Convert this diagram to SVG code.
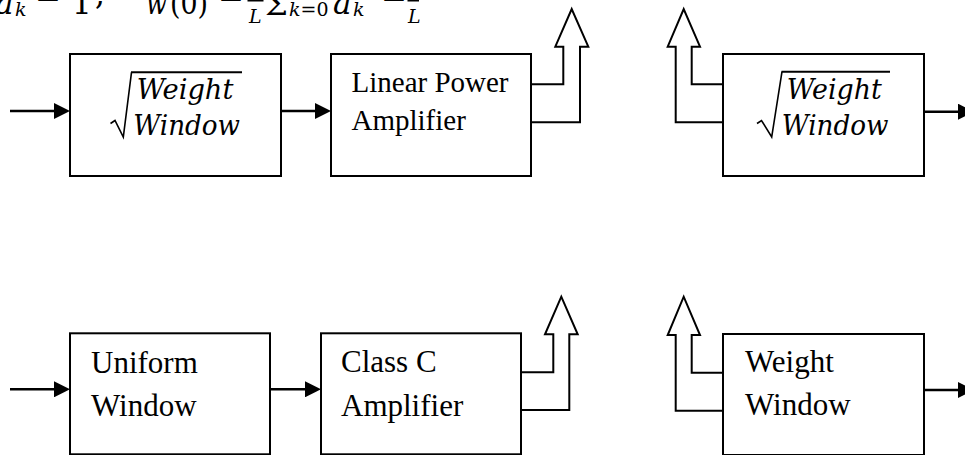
<svg xmlns="http://www.w3.org/2000/svg" width="965" height="455" viewBox="0 0 965 455">
<style>
.box{fill:#fff;stroke:#000;stroke-width:2}
.line{fill:none;stroke:#000;stroke-width:2.5}
.hollow{fill:#fff;stroke:#000;stroke-width:2;stroke-linejoin:miter}
.rad{fill:none;stroke:#000;stroke-width:1.6;stroke-linejoin:miter}
.lbl{font-family:"Liberation Serif","Times New Roman",serif;fill:#000}
.t29{font-size:29px}
.t31{font-size:31px}
.mi{font-family:"DejaVu Serif",serif;font-style:italic;font-size:27px;fill:#000}
.mr{font-family:"DejaVu Serif",serif;font-size:27px;fill:#000}
.fm{font-size:31px}
.ms{font-size:19px}
</style>
<defs>
<marker id="ah" markerUnits="userSpaceOnUse" markerWidth="16" markerHeight="16" refX="8" refY="8" orient="auto">
<path d="M0,0 L16,8 L0,16 z" fill="#000"/>
</marker>
</defs>
<rect width="965" height="455" fill="#fff"/>

<g id="formula">
<text class="mi fm" x="-5" y="14">a</text>
<text class="mi ms" x="15" y="15.5">k</text>
<text class="mr fm" x="35" y="7">=</text>
<text class="mr fm" x="72" y="14">1</text>
<text class="mr fm" x="95" y="5">,</text>
<text class="mi fm" x="146" y="14" textLength="21" lengthAdjust="spacingAndGlyphs">w</text>
<text class="mr fm" x="170" y="14" textLength="38" lengthAdjust="spacingAndGlyphs">(0)</text>
<text class="mr fm" x="218" y="7">=</text>
<rect x="247.5" y="-1" width="16" height="2.5" fill="#000"/>
<text class="mi ms" x="249" y="23">L</text>
<text class="mr" x="265" y="15" font-size="33" textLength="23" lengthAdjust="spacingAndGlyphs">Σ</text>
<text class="mi ms" x="289" y="16">k<tspan class="mr ms" font-style="normal">=0</tspan></text>
<text class="mi fm" x="333" y="14">a</text>
<text class="mi ms" x="353" y="15.5">k</text>
<text class="mr fm" x="381" y="7">=</text>
<rect x="407.5" y="-1" width="11.5" height="2.5" fill="#000"/>
<text class="mi ms" x="408" y="23">L</text>
</g>

<g id="connectors">
<path class="line" d="M10,111 H62" marker-end="url(#ah)"/>
<path class="line" d="M281,111 H323" marker-end="url(#ah)"/>
<path class="line" d="M924,111.7 H966" marker-end="url(#ah)"/>
<path class="line" d="M10,389.3 H62" marker-end="url(#ah)"/>
<path class="line" d="M270,389.3 H313" marker-end="url(#ah)"/>
<path class="line" d="M924,390 H966" marker-end="url(#ah)"/>
<path class="hollow" d="M531,84.3 H563.3 V46.7 H555.3 L571.7,9 L588.3,46.7 H580 V122.3 H531"/>
<path class="hollow" d="M521,372.3 H553.3 V334.3 H545 L561.3,296.7 L577.7,334.3 H569.3 V410 H521"/>
<path class="hollow" d="M723,84.3 H691.7 V46.7 H700 L683.7,9 L667.7,46.7 H675.7 V122.3 H723"/>
<path class="hollow" d="M723,372.7 H691.7 V335 H700 L683.7,296.7 L667.7,335 H675.7 V410.7 H723"/>
</g>

<g id="node-sqrt-weight-tx">
<rect class="box" x="70" y="54" width="211" height="122"/>
<path class="rad" d="M110.5,123.5 L115,120.5 L123.3,137 L131.5,72.3"/>
<path fill="none" stroke="#000" stroke-width="2" d="M131,72.3 H242"/>
<text class="mi" x="136.7" y="99.3" textLength="96.7" lengthAdjust="spacingAndGlyphs">Weight</text>
<text class="mi" x="133.3" y="135" textLength="106.7" lengthAdjust="spacingAndGlyphs">Window</text>
</g>

<g id="node-linear-amp">
<rect class="box" x="331" y="54" width="200" height="122"/>
<text class="lbl t29" x="351.5" y="91.7">Linear Power</text>
<text class="lbl t29" x="351.5" y="130">Amplifier</text>
</g>

<g id="node-sqrt-weight-rx">
<rect class="box" x="723" y="54" width="201" height="122"/>
<path class="rad" d="M757,123.5 L761.5,120.5 L771.7,137 L782,71.7"/>
<path fill="none" stroke="#000" stroke-width="2" d="M781.5,71.7 H890"/>
<text class="mi" x="786.7" y="99" textLength="95" lengthAdjust="spacingAndGlyphs">Weight</text>
<text class="mi" x="781.7" y="135" textLength="106.7" lengthAdjust="spacingAndGlyphs">Window</text>
</g>

<g id="node-uniform-window">
<rect class="box" x="70" y="333.3" width="200" height="121"/>
<text class="lbl t31" x="91" y="372.8">Uniform</text>
<text class="lbl t31" x="91" y="416">Window</text>
</g>

<g id="node-classc-amp">
<rect class="box" x="321" y="333.3" width="200" height="121"/>
<text class="lbl t31" x="341" y="372">Class C</text>
<text class="lbl t31" x="341" y="416">Amplifier</text>
</g>

<g id="node-weight-window">
<rect class="box" x="723" y="334" width="201" height="121"/>
<text class="lbl t31" x="745" y="371.7">Weight</text>
<text class="lbl t31" x="745" y="415">Window</text>
</g>
</svg>
